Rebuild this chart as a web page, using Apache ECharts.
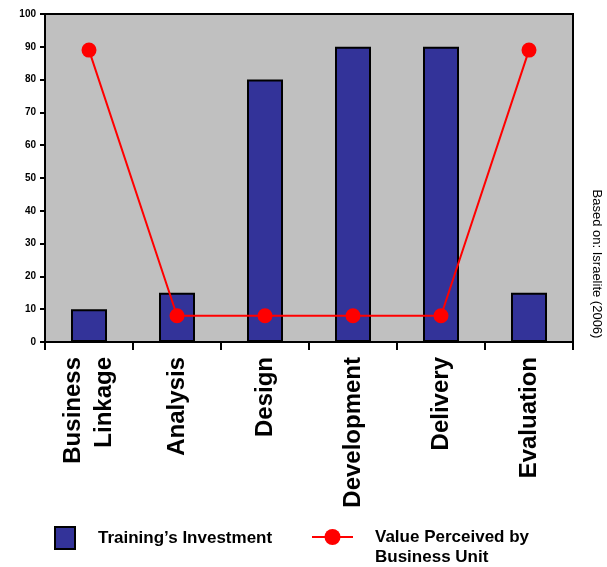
<!DOCTYPE html>
<html>
<head>
<meta charset="utf-8">
<script src="https://cdn.jsdelivr.net/npm/echarts@6/dist/echarts.min.js"></script>
<style>html,body{margin:0;padding:0;background:#fff}#c{width:607px;height:567px}</style>
</head>
<body>
<div id="c"></div>
<script>
const categories = ['Business\nLinkage', 'Analysis', 'Design', 'Development', 'Delivery', 'Evaluation'];
const investment = [10, 15, 80, 90, 90, 15];
const perceivedValue = [89, 8, 8, 8, 8, 89];
const yTicks = {min: 0, max: 100, interval: 10};
const seriesNames = ["Training\u2019s Investment", 'Value Perceived by Business Unit'];
const sourceNote = 'Based on: Israelite (2006)';

const FONT = '"Liberation Sans", Arial, Helvetica, sans-serif';
const chart = echarts.init(document.getElementById('c'), null, {renderer: 'canvas'});
chart.setOption({
  animation: false,
  backgroundColor: '#ffffff',
  textStyle: {fontFamily: FONT},
  grid: {left: 45, right: 34, top: 14, bottom: 225, show: true, backgroundColor: '#c0c0c0', borderColor: '#000', borderWidth: 2},
  xAxis: {
    type: 'category', data: categories,
    axisLine: {lineStyle: {color: '#000', width: 2}},
    axisTick: {show: true, length: 8, lineStyle: {color: '#000', width: 2}},
    axisLabel: {rotate: 90, fontSize: 24, fontWeight: 'bold', color: '#000', lineHeight: 31, margin: 15, fontFamily: FONT}
  },
  yAxis: {
    type: 'value', min: yTicks.min, max: yTicks.max, interval: yTicks.interval,
    splitLine: {show: false},
    axisLine: {show: true, lineStyle: {color: '#000', width: 2}},
    axisTick: {show: true, length: 5, lineStyle: {color: '#000', width: 2}},
    axisLabel: {fontSize: 10, fontWeight: 'bold', color: '#000', margin: 9, fontFamily: FONT}
  },
  legend: [
    {data: [{name: seriesNames[0], icon: 'rect'}], left: 49, top: 521, itemWidth: 20, itemHeight: 22,
     textStyle: {fontSize: 17, fontWeight: 'bold', color: '#000', padding: [0, 0, 0, 18], fontFamily: FONT}},
    {data: [seriesNames[1]], left: 306, top: 502, itemWidth: 41, itemHeight: 20,
     formatter: () => ' \nValue Perceived by\nBusiness Unit',
     textStyle: {fontSize: 17, fontWeight: 'bold', color: '#000', lineHeight: 20, padding: [0, 0, 0, 17], fontFamily: FONT}}
  ],
  graphic: [{
    type: 'text', x: 597, y: 264, rotation: -Math.PI / 2,
    style: {text: sourceNote, fontSize: 13, fill: '#000', align: 'center', verticalAlign: 'middle', fontFamily: FONT}
  }],
  series: [
    {name: seriesNames[0], type: 'bar', data: investment, barWidth: 36,
     itemStyle: {color: '#333399', borderColor: '#000', borderWidth: 2}},
    {name: seriesNames[1], type: 'line', data: perceivedValue, symbol: 'circle', symbolSize: 15,
     itemStyle: {color: '#ff0000'}, lineStyle: {color: '#ff0000', width: 2}, z: 5}
  ]
});
</script>
</body>
</html>
